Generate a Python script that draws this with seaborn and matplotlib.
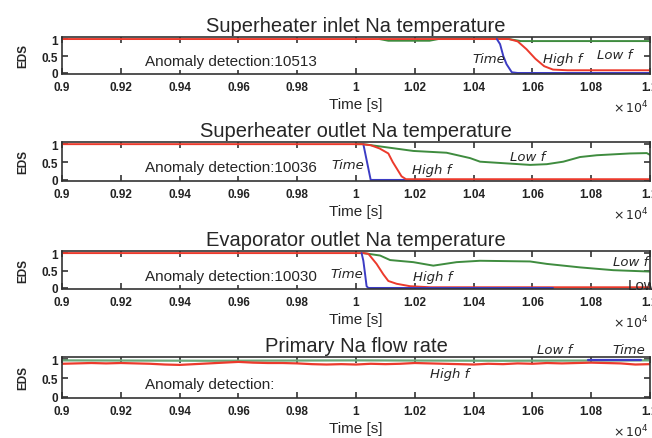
import matplotlib
matplotlib.use('Agg')
import matplotlib.pyplot as plt
import seaborn as sns

# time axis is in units of 10^4 s
titles = ['Superheater inlet Na temperature', 'Superheater outlet Na temperature',
          'Evaporator outlet Na temperature', 'Primary Na flow rate']
detections = ['10513', '10036', '10030', '']
xticks = [0.9, 0.92, 0.94, 0.96, 0.98, 1.0, 1.02, 1.04, 1.06, 1.08, 1.1]
xticklabels = ['0.9', '0.92', '0.94', '0.96', '0.98', '1', '1.02', '1.04', '1.06', '1.08', '1.1']

# panel 1 - superheater inlet
p1_green_t = [1.008, 1.011, 1.025, 1.028, 1.052, 1.056, 1.1]
p1_green = [1.0, 0.95, 0.95, 1.0, 1.0, 0.94, 0.94]
p1_red_t = [0.9, 1.052, 1.055, 1.058, 1.061, 1.064, 1.067, 1.072, 1.1]
p1_red = [1.0, 1.0, 0.93, 0.7, 0.42, 0.2, 0.1, 0.08, 0.08]
p1_blue_t = [1.0479, 1.049, 1.0501, 1.0512, 1.053, 1.055, 1.1]
p1_blue = [1.0, 0.85, 0.5, 0.26, 0.02, 0.0, 0.0]

# panel 2 - superheater outlet
p2_green_t = [1.0, 1.0025, 1.0195, 1.0308, 1.0388, 1.0422, 1.0592, 1.0649, 1.0705,
              1.0762, 1.0819, 1.0932, 1.0989, 1.1]
p2_green = [1.0, 1.0, 0.81, 0.76, 0.61, 0.51, 0.42, 0.44, 0.51, 0.64, 0.69, 0.74, 0.75, 0.7]
p2_blue_t = [1.0025, 1.0035, 1.0045, 1.005, 1.025]
p2_blue = [1.0, 0.6, 0.2, 0.0, 0.0]
p2_red_t = [0.9, 1.002, 1.005, 1.008, 1.011, 1.0125, 1.014, 1.0155, 1.017, 1.1]
p2_red = [1.0, 1.0, 0.97, 0.88, 0.74, 0.5, 0.3, 0.1, 0.02, 0.02]

# panel 3 - evaporator outlet
p3_green_t = [1.0025, 1.0082, 1.0116, 1.0195, 1.0263, 1.0342, 1.0422, 1.0592, 1.0649,
              1.0762, 1.0875, 1.1]
p3_green = [1.0, 0.93, 0.8, 0.74, 0.64, 0.74, 0.78, 0.76, 0.69, 0.59, 0.51, 0.47]
p3_red_t = [0.9, 1.0025, 1.0042, 1.007, 1.0093, 1.011, 1.0138, 1.0184, 1.0252, 1.1]
p3_red = [1.0, 1.0, 0.98, 0.69, 0.39, 0.2, 0.12, 0.05, 0.02, 0.02]
p3_blue_t = [1.0019, 1.0025, 1.0031, 1.0036, 1.0042, 1.067]
p3_blue = [1.0, 0.78, 0.39, 0.05, 0.0, 0.0]

# panel 4 - primary flow rate
p4_t = [0.9, 0.905, 0.91, 0.915, 0.92, 0.925, 0.93, 0.935, 0.94, 0.945, 0.95, 0.955, 0.96,
        0.965, 0.97, 0.975, 0.98, 0.985, 0.99, 0.995, 1.0, 1.005, 1.01, 1.015, 1.02, 1.025,
        1.03, 1.035, 1.04, 1.045, 1.05, 1.055, 1.06, 1.065, 1.07, 1.075, 1.08, 1.085, 1.09,
        1.095, 1.1]
p4_red = [0.88, 0.89, 0.9, 0.89, 0.9, 0.89, 0.88, 0.86, 0.85, 0.87, 0.89, 0.91, 0.93,
          0.91, 0.9, 0.9, 0.89, 0.87, 0.86, 0.87, 0.86, 0.88, 0.87, 0.88, 0.9, 0.89,
          0.88, 0.87, 0.86, 0.88, 0.87, 0.89, 0.88, 0.9, 0.89, 0.9, 0.91, 0.9, 0.89,
          0.86, 0.87]
p4_green_t = [0.9, 0.95, 1.0, 1.05, 1.1]
p4_green = [0.97, 0.96, 0.97, 0.96, 0.97]
p4_blue_t = [1.079, 1.097]
p4_blue = [0.975, 0.975]

RED, BLUE, GREEN = '#ec3a2c', '#3c3cc4', '#3f8c3f'

series = [
    [(p1_green_t, p1_green, GREEN), (p1_red_t, p1_red, RED), (p1_blue_t, p1_blue, BLUE)],
    [(p2_green_t, p2_green, GREEN), (p2_blue_t, p2_blue, BLUE), (p2_red_t, p2_red, RED)],
    [(p3_green_t, p3_green, GREEN), (p3_red_t, p3_red, RED), (p3_blue_t, p3_blue, BLUE)],
    [(p4_green_t, p4_green, '#6aa97a'), (p4_t, p4_red, RED), (p4_blue_t, p4_blue, BLUE)],
]

# curve labels: (text, x, y)
labels = [
    [('Time', 1.0395, 0.44), ('High f', 1.0636, 0.44), ('Low f', 1.082, 0.53)],
    [('Time', 0.9918, 0.43), ('High f', 1.019, 0.29), ('Low f', 1.0524, 0.66)],
    [('Time', 0.9912, 0.41), ('High f', 1.0194, 0.32), ('Low f', 1.0874, 0.76)],
    [('Low f', 1.0616, 1.27), ('Time', 1.0871, 1.27), ('High f', 1.0252, 0.62)],
]

sns.set_style('ticks')
plt.rcParams['font.family'] = ['Liberation Sans', 'DejaVu Sans']
tick_font = {'family': 'Liberation Sans', 'weight': 'bold', 'size': 8.5}

fig = plt.figure(figsize=(6.52, 4.39), dpi=100)
W, H = 652, 439
boxes = [(38, 75), (143, 182), (252, 290), (358, 399)]  # top, bottom in px

for i in range(4):
    top, bot = boxes[i]
    ax = fig.add_axes([62 / W, 1 - bot / H, 588 / W, (bot - top) / H])
    for t, v, c in series[i]:
        sns.lineplot(x=t, y=v, ax=ax, color=c, lw=1.4 if i < 3 else 1.6,
                     estimator=None, sort=False)
    ax.set_xlim(0.9, 1.1)
    ax.set_ylim(-0.03, 1.06)
    ax.set_xticks(xticks)
    ax.set_xticklabels(xticklabels, fontdict=tick_font)
    ax.set_yticks([0, 0.5, 1])
    ax.set_yticklabels(['0', '0.5', '1'], fontdict=tick_font)
    ax.tick_params(direction='in', top=True, right=True, length=4, width=1.1,
                   colors='#222222')
    ax.tick_params(axis='x', pad=5)
    ax.tick_params(axis='y', pad=3)
    for s in ax.spines.values():
        s.set_linewidth(1.2)
        s.set_color('#333333')
        s.set_visible(True)
    ax.set_title(titles[i], fontsize=14.5, pad=4)
    ax.set_xlabel('Time [s]', fontsize=11, labelpad=3)
    ax.set_ylabel('EDS', fontdict=tick_font, labelpad=9)
    ax.text(0.141, 0.35, 'Anomaly detection:' + detections[i], transform=ax.transAxes,
            fontsize=11, va='center', ha='left',
            bbox=dict(facecolor='white', edgecolor='none', pad=1.5))
    for txt, x, y in labels[i]:
        ax.text(x, y, txt, fontsize=9.5, style='italic', family='DejaVu Sans',
                va='center', ha='left')
    if i == 2:
        ax.text(1.0925, 0.09, 'Low', fontsize=11, va='center', ha='left')
    fig.text(613 / W, 1 - (bot + 33) / H, r'$\times\,10^4$', fontsize=9, va='center',
             ha='left')

fig.savefig('out.png', dpi=100)
